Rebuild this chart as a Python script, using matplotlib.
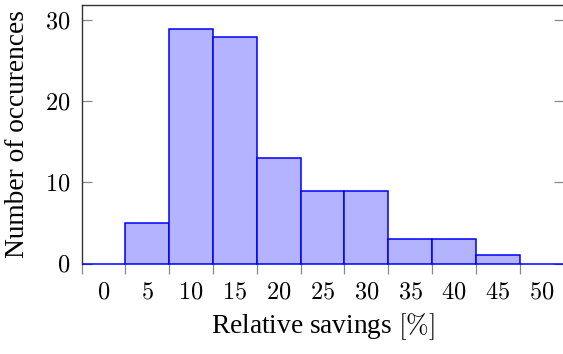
import matplotlib.pyplot as plt

# histogram data (left bin edges, counts), bin width 5
bin_left = [0, 5, 10, 15, 20, 25, 30, 35, 40, 45, 50]
counts = [0, 5, 29, 28, 13, 9, 9, 3, 3, 1, 0]
tick_labels = ['0', '5', '10', '15', '20', '25', '30', '35', '40', '45', '50']
yticks = [0, 10, 20, 30]

plt.rcParams['mathtext.fontset'] = 'cm'
plt.rcParams['font.family'] = 'Liberation Serif'

fig = plt.figure(figsize=(5.63, 3.54), dpi=100)
ax = fig.add_axes([81.5 / 563, (354 - 263.5) / 354, (563.5 - 81.5) / 563, (263.5 - 5) / 354])

ax.bar(bin_left, counts, width=5, align='edge', color='#b3b3ff',
       edgecolor='#0000ff', linewidth=1.1, zorder=3, clip_on=False)

ax.set_xlim(0, 55)
ax.set_ylim(0, 31.9)

# ticks at the bin edges, labels in the middle of each interval
ax.set_xticks(bin_left)
ax.set_xticklabels([])
ax.set_xticks([b + 2.5 for b in bin_left], minor=True)
ax.set_xticklabels(['$' + t + '$' for t in tick_labels], minor=True)
ax.tick_params(axis='x', which='major', direction='out', length=7, width=0.9,
               color='#888888')
ax.tick_params(axis='x', which='minor', length=0, pad=14, labelsize=17.5)

ax.set_yticks(yticks)
ax.set_yticklabels(['$' + str(v) + '$' for v in yticks])
ax.tick_params(axis='y', direction='in', length=7.5, width=0.9, color='#888888',
               right=True, pad=8, labelsize=17.5)

for s in ['left', 'top', 'right']:
    ax.spines[s].set_color('#333333')
    ax.spines[s].set_linewidth(1.0)
ax.spines['bottom'].set_visible(False)

ax.set_xlabel(r'Relative savings $[\%]$', fontsize=19.7, labelpad=5)
ax.set_ylabel('Number of occurences', fontsize=19.7, labelpad=11)

fig.savefig('out.png', dpi=100)
